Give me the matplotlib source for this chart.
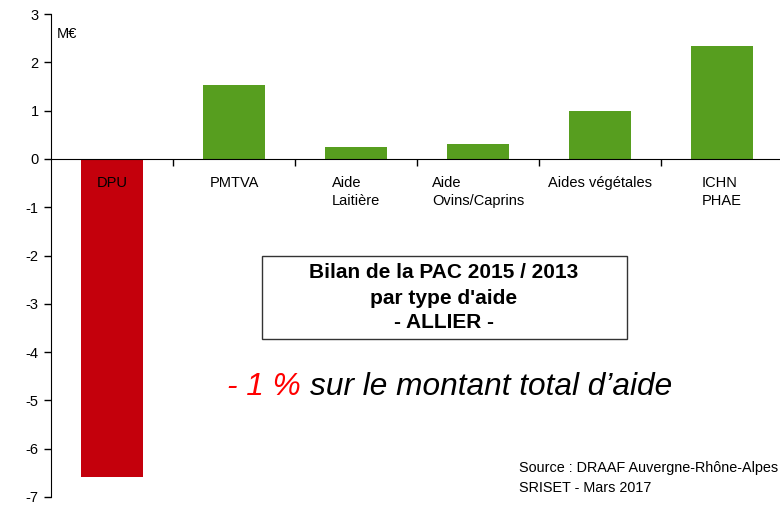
import matplotlib
matplotlib.use("Agg")
import matplotlib.pyplot as plt
from matplotlib.patches import Rectangle

# Bilan PAC 2015/2013 par type d'aide - Allier (M€)
categories = ["DPU", "PMTVA", "Aide\nLaitière", "Aide\nOvins/Caprins",
              "Aides végétales", "ICHN\nPHAE"]
values = [-6.58, 1.53, 0.25, 0.31, 0.99, 2.34]
yticks = [-7, -6, -5, -4, -3, -2, -1, 0, 1, 2, 3]

red = "#C4000C"
green = "#579E1F"

plt.rcParams['font.family'] = ['Liberation Sans', 'DejaVu Sans']

W, H = 780, 517
fig = plt.figure(figsize=(7.8, 5.17), dpi=100)
ax = fig.add_axes([51 / W, 1 - 497 / H, 732 / W, (497 - 14) / H])

x = list(range(len(categories)))
colors = [red if v < 0 else green for v in values]
ax.bar(x, values, width=0.51, color=colors, zorder=1)

ax.set_xlim(-0.5, len(categories) - 0.5)
ax.set_ylim(-7, 3)
ax.set_yticks(yticks)
ax.set_yticklabels([str(t) for t in yticks], fontsize=10.5)
ax.tick_params(axis='y', direction='out', length=5, width=1, pad=4)

ax.spines['top'].set_visible(False)
ax.spines['right'].set_visible(False)
ax.spines['bottom'].set_position(('data', 0))
ax.spines['bottom'].set_zorder(3)
ax.set_xticks([i + 0.5 for i in x[:-1]])
ax.set_xticklabels([])
ax.tick_params(axis='x', direction='out', length=5, width=1)

for i, lab in enumerate(categories):
    ax.text(i, -0.36, lab, ha='center', va='top', multialignment='left',
            fontsize=10.5, linespacing=1.35, zorder=4)

fig.text(57 / W, 1 - 34 / H, "M€", fontsize=10.5, va='center', ha='left')

# boxed title
fig.patches.append(Rectangle((262 / W, 1 - 339 / H), (627 - 262) / W,
                             (339 - 256) / H, transform=fig.transFigure,
                             facecolor='white', edgecolor='#333333',
                             linewidth=1))
fig.text(444 / W, 1 - 298 / H,
         "Bilan de la PAC 2015 / 2013\npar type d'aide\n- ALLIER -",
         ha='center', va='center', fontsize=15, fontweight='bold',
         linespacing=1.4)

t1 = fig.text(227 / W, 1 - 387 / H, "- 1 %", color='#FF0000',
              fontsize=22.8, style='italic', va='center', ha='left')
fig.canvas.draw()
bb = t1.get_window_extent()
fig.text((bb.x1 + 9) / W, 1 - 387 / H, "sur le montant total d\u2019aide",
         color='black', fontsize=22.8, style='italic', va='center', ha='left')

fig.text(519 / W, 1 - 468 / H, "Source : DRAAF Auvergne-Rhône-Alpes",
         fontsize=10.4, va='center', ha='left')
fig.text(519 / W, 1 - 488 / H, "SRISET - Mars 2017",
         fontsize=10.4, va='center', ha='left')

fig.savefig("out.png", dpi=100)
